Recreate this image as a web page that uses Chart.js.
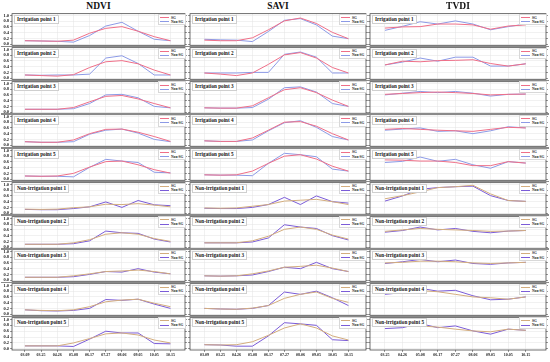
<!DOCTYPE html>
<html>
<head>
<meta charset="utf-8">
<script src="https://cdn.jsdelivr.net/npm/chart.js@4"></script>
<style>
  body { margin: 0; width: 550px; height: 362px; background: #fff; position: relative; overflow: hidden;
         font-family: "Liberation Serif", "DejaVu Serif", serif; }
  canvas { position: absolute; }
  .ttl { position: absolute; top: 1px; width: 60px; text-align: center; font-weight: bold; font-size: 9.5px; color: #111; }
  .sep { position: absolute; height: 1.5px; background: #8a8a8a; }
  .lab { position: absolute; font-weight: bold; font-size: 5.2px; line-height: 7px; color: #111; background: #fff;
         border: 0.5px solid #cfcfcf; padding: 0 2px; white-space: nowrap; }
  .leg { position: absolute; width: 24px; background: #fff; border: 0.5px solid #d8d8d8; font-weight: bold;
         font-size: 3.6px; line-height: 4.2px; color: #222; padding: 0.5px 1px; white-space: nowrap; }
  .leg span { display: inline-block; width: 9px; height: 0; border-top: 1px solid; vertical-align: middle; margin-right: 2px; }
</style>
</head>
<body>
<script>
// dates on the x axis
var viDates = ['03.09', '03.25', '04.26', '05.08', '06.17', '07.27', '08.06', '09.05', '10.05', '10.15'];
var tvdiDates = ['03.25', '04.26', '05.08', '06.17', '07.27', '08.06', '09.05', '10.05', '10.15'];

var pointNames = ['Irrigation point 1', 'Irrigation point 2', 'Irrigation point 3', 'Irrigation point 4', 'Irrigation point 5',
  'Non-irrigation point 1', 'Non-irrigation point 2', 'Non-irrigation point 3', 'Non-irrigation point 4', 'Non-irrigation point 5'];

// NDVI
var ndviSG = [
  [0.12, 0.11, 0.10, 0.14, 0.38, 0.55, 0.61, 0.45, 0.26, 0.12],
  [0.11, 0.09, 0.07, 0.12, 0.37, 0.57, 0.61, 0.50, 0.28, 0.11],
  [0.10, 0.10, 0.10, 0.16, 0.36, 0.55, 0.58, 0.46, 0.30, 0.15],
  [0.12, 0.10, 0.10, 0.18, 0.40, 0.55, 0.56, 0.45, 0.30, 0.13],
  [0.11, 0.10, 0.11, 0.20, 0.42, 0.61, 0.63, 0.50, 0.33, 0.21],
  [0.14, 0.13, 0.14, 0.19, 0.22, 0.31, 0.30, 0.33, 0.28, 0.22],
  [0.10, 0.10, 0.10, 0.15, 0.26, 0.45, 0.50, 0.45, 0.30, 0.20],
  [0.10, 0.10, 0.10, 0.15, 0.22, 0.30, 0.32, 0.35, 0.30, 0.22],
  [0.15, 0.13, 0.12, 0.15, 0.26, 0.43, 0.49, 0.52, 0.38, 0.26],
  [0.10, 0.10, 0.10, 0.20, 0.35, 0.51, 0.54, 0.47, 0.30, 0.20]
];
var ndviNonSG = [
  [0.12, 0.11, 0.10, 0.07, 0.30, 0.63, 0.76, 0.45, 0.17, 0.12],
  [0.11, 0.10, 0.11, 0.11, 0.14, 0.70, 0.78, 0.51, 0.11, 0.11],
  [0.10, 0.10, 0.10, 0.12, 0.30, 0.60, 0.62, 0.50, 0.20, 0.15],
  [0.12, 0.10, 0.10, 0.12, 0.38, 0.52, 0.56, 0.42, 0.20, 0.12],
  [0.11, 0.10, 0.10, 0.08, 0.41, 0.69, 0.63, 0.58, 0.24, 0.22],
  [0.13, 0.12, 0.12, 0.16, 0.22, 0.39, 0.20, 0.44, 0.29, 0.26],
  [0.10, 0.10, 0.10, 0.12, 0.22, 0.56, 0.50, 0.48, 0.28, 0.18],
  [0.10, 0.10, 0.10, 0.12, 0.20, 0.30, 0.28, 0.40, 0.28, 0.22],
  [0.15, 0.12, 0.11, 0.13, 0.20, 0.51, 0.48, 0.52, 0.35, 0.20],
  [0.10, 0.10, 0.10, 0.08, 0.33, 0.60, 0.54, 0.54, 0.18, 0.17]
];

// SAVI
var saviSG = [
  [0.14, 0.12, 0.12, 0.22, 0.50, 0.81, 0.91, 0.72, 0.41, 0.19],
  [0.18, 0.14, 0.09, 0.18, 0.48, 0.81, 0.89, 0.70, 0.37, 0.18],
  [0.15, 0.14, 0.14, 0.22, 0.50, 0.78, 0.85, 0.68, 0.42, 0.20],
  [0.15, 0.13, 0.13, 0.25, 0.52, 0.80, 0.82, 0.66, 0.40, 0.18],
  [0.15, 0.14, 0.15, 0.28, 0.55, 0.80, 0.85, 0.70, 0.45, 0.28],
  [0.18, 0.17, 0.18, 0.24, 0.30, 0.42, 0.45, 0.48, 0.40, 0.30],
  [0.15, 0.15, 0.15, 0.22, 0.38, 0.62, 0.70, 0.62, 0.42, 0.28],
  [0.15, 0.14, 0.15, 0.22, 0.32, 0.45, 0.48, 0.52, 0.42, 0.30],
  [0.20, 0.18, 0.17, 0.21, 0.30, 0.55, 0.69, 0.77, 0.55, 0.41],
  [0.14, 0.13, 0.14, 0.24, 0.46, 0.71, 0.85, 0.71, 0.44, 0.30]
];
var saviNonSG = [
  [0.17, 0.15, 0.14, 0.09, 0.44, 0.83, 0.89, 0.67, 0.28, 0.19],
  [0.18, 0.18, 0.18, 0.20, 0.20, 0.83, 0.91, 0.73, 0.18, 0.18],
  [0.15, 0.14, 0.14, 0.16, 0.45, 0.85, 0.88, 0.70, 0.30, 0.20],
  [0.15, 0.13, 0.13, 0.18, 0.50, 0.78, 0.85, 0.62, 0.30, 0.18],
  [0.15, 0.14, 0.14, 0.12, 0.55, 0.90, 0.85, 0.78, 0.35, 0.28],
  [0.17, 0.16, 0.16, 0.20, 0.30, 0.55, 0.30, 0.60, 0.40, 0.35],
  [0.15, 0.15, 0.15, 0.18, 0.32, 0.78, 0.70, 0.65, 0.40, 0.25],
  [0.15, 0.14, 0.15, 0.18, 0.30, 0.45, 0.40, 0.62, 0.40, 0.30],
  [0.20, 0.18, 0.17, 0.20, 0.30, 0.77, 0.69, 0.80, 0.57, 0.30],
  [0.14, 0.13, 0.09, 0.09, 0.44, 0.89, 0.85, 0.80, 0.31, 0.28]
];

// TVDI
var tvdiSG = [
  [0.56, 0.60, 0.61, 0.70, 0.70, 0.67, 0.52, 0.63, 0.67],
  [0.46, 0.59, 0.57, 0.61, 0.62, 0.64, 0.51, 0.42, 0.50],
  [0.62, 0.65, 0.68, 0.70, 0.68, 0.65, 0.60, 0.62, 0.63],
  [0.55, 0.58, 0.55, 0.52, 0.50, 0.48, 0.55, 0.62, 0.60],
  [0.67, 0.66, 0.63, 0.63, 0.58, 0.47, 0.47, 0.61, 0.56],
  [0.50, 0.61, 0.74, 0.89, 0.92, 0.97, 0.67, 0.44, 0.41],
  [0.55, 0.60, 0.65, 0.62, 0.60, 0.58, 0.55, 0.56, 0.58],
  [0.60, 0.62, 0.66, 0.66, 0.64, 0.60, 0.58, 0.60, 0.62],
  [0.80, 0.80, 0.82, 0.78, 0.69, 0.60, 0.57, 0.52, 0.60],
  [0.76, 0.76, 0.78, 0.74, 0.67, 0.61, 0.58, 0.67, 0.63]
];
var tvdiNonSG = [
  [0.48, 0.62, 0.78, 0.70, 0.81, 0.70, 0.50, 0.61, 0.70],
  [0.46, 0.56, 0.70, 0.59, 0.73, 0.73, 0.42, 0.42, 0.50],
  [0.60, 0.66, 0.72, 0.68, 0.72, 0.66, 0.56, 0.62, 0.63],
  [0.52, 0.56, 0.60, 0.48, 0.50, 0.40, 0.50, 0.64, 0.60],
  [0.58, 0.62, 0.77, 0.62, 0.69, 0.50, 0.38, 0.61, 0.56],
  [0.42, 0.60, 0.83, 0.89, 0.92, 0.94, 0.61, 0.44, 0.41],
  [0.52, 0.58, 0.70, 0.60, 0.65, 0.55, 0.50, 0.56, 0.58],
  [0.58, 0.64, 0.72, 0.64, 0.70, 0.58, 0.55, 0.60, 0.62],
  [0.69, 0.75, 0.90, 0.80, 0.83, 0.64, 0.50, 0.52, 0.60],
  [0.69, 0.72, 0.86, 0.72, 0.78, 0.61, 0.50, 0.67, 0.63]
];

var yTicks = [0, 0.2, 0.4, 0.6, 0.8, 1.0];

// layout of the grid of small panels
var rowTop = 13, rowH = 33.7, pad = 2.7;
var cols = [
  { title: 'NDVI', left: 12, right: 185, axisW: 11, showY: true, sg: ndviSG, non: ndviNonSG, labels: viDates, xMin: -0.8, xMax: 9.9 },
  { title: 'SAVI', left: 190, right: 366, axisW: 4, showY: false, sg: saviSG, non: saviNonSG, labels: viDates, xMin: -0.9, xMax: 10.1 },
  { title: 'TVDI', left: 370, right: 546, axisW: 4, showY: false, sg: tvdiSG, non: tvdiNonSG, labels: tvdiDates, xMin: -0.85, xMax: 9.15 }
];

var frame = {
  id: 'frame',
  afterDraw: function(chart) {
    var a = chart.chartArea, c = chart.ctx;
    c.save();
    c.strokeStyle = '#333';
    c.lineWidth = 0.7;
    c.strokeRect(a.left, a.top, a.right - a.left, a.bottom - a.top);
    c.restore();
  }
};

function add(cls, html, css) {
  var d = document.createElement('div');
  d.className = cls;
  d.innerHTML = html;
  for (var k in css) d.style[k] = css[k];
  document.body.appendChild(d);
  return d;
}

function toPoints(arr) {
  return arr.map(function(v, i) { return { x: i, y: v }; });
}

function makePanel(col, r) {
  var isLast = (r === 9);
  var irr = r < 5;
  var sgColor = irr ? '#ef6f88' : '#d3ad7e';
  var nonColor = irr ? '#8c9ae6' : '#7b5cd8';
  var top = rowTop + r * rowH;
  var xH = isLast ? 10 : 0;

  var cv = document.createElement('canvas');
  var w = Math.round(col.axisW + (col.right - col.left) + 3);
  var h = Math.round(rowH + pad * 2 + (isLast ? xH - pad : 0));
  cv.width = w; cv.height = h;
  cv.style.left = (col.left - col.axisW) + 'px';
  cv.style.top = (top - pad) + 'px';
  document.body.appendChild(cv);

  new Chart(cv.getContext('2d'), {
    type: 'line',
    data: {
      datasets: [
        { label: 'SG', data: toPoints(col.sg[r]), borderColor: sgColor, borderWidth: 1, pointRadius: 0, tension: 0 },
        { label: 'Non-SG', data: toPoints(col.non[r]), borderColor: nonColor, borderWidth: 1, pointRadius: 0, tension: 0 }
      ]
    },
    options: {
      responsive: false,
      animation: false,
      events: [],
      layout: { padding: 0 },
      plugins: { legend: { display: false }, tooltip: { enabled: false } },
      scales: {
        x: {
          type: 'linear', min: col.xMin, max: col.xMax,
          afterBuildTicks: function(s) { s.ticks = col.labels.map(function(l, i) { return { value: i }; }); },
          afterFit: function(s) { s.height = xH; },
          ticks: { display: isLast, autoSkip: false, maxRotation: 0, padding: 1, color: '#222',
                   font: { size: 4, family: 'Liberation Serif', weight: 'bold' },
                   callback: function(v) { return col.labels[v]; } },
          grid: { color: '#e2e2e2', lineWidth: 0.5, drawTicks: isLast, tickLength: 2, tickColor: '#333' },
          border: { display: false }
        },
        y: {
          min: -0.04, max: 1.06,
          afterBuildTicks: function(s) { s.ticks = yTicks.map(function(v) { return { value: v }; }); },
          afterFit: function(s) { s.width = col.axisW; },
          ticks: { autoSkip: false, padding: 1, color: col.showY ? '#222' : 'rgba(0,0,0,0)',
                   font: { size: 4.5, family: 'Liberation Serif', weight: 'bold' },
                   callback: function(v) { return v.toFixed(1); } },
          grid: { color: '#e2e2e2', lineWidth: 0.5, tickLength: 2, tickColor: '#333' },
          border: { display: false }
        },
        y2: {
          position: 'right', min: -0.04, max: 1.06,
          afterBuildTicks: function(s) { s.ticks = yTicks.map(function(v) { return { value: v }; }); },
          afterFit: function(s) { s.width = 3; },
          ticks: { display: false },
          grid: { drawOnChartArea: false, tickLength: 2, color: '#333', lineWidth: 0.5 },
          border: { display: false }
        }
      }
    },
    plugins: [frame]
  });

  // point name and legend
  add('lab', pointNames[r], { left: (col.left + 2) + 'px', top: (top + 2) + 'px' });
  add('leg', '<div><span style="border-color:' + sgColor + '"></span>SG</div>' +
             '<div><span style="border-color:' + nonColor + '"></span>Non-SG</div>',
      { left: (col.right - 27) + 'px', top: (top + 1) + 'px' });
}

cols.forEach(function(col) {
  add('ttl', col.title, { left: ((col.left + col.right) / 2 - 30) + 'px' });
  for (var r = 0; r < 10; r++) makePanel(col, r);
  for (var r2 = 1; r2 < 10; r2++) {
    add('sep', '', { left: (col.left - col.axisW) + 'px', width: (col.right - col.left + col.axisW + 3) + 'px',
                     top: (rowTop + r2 * rowH - 0.75) + 'px' });
  }
});
</script>
</body>
</html>
